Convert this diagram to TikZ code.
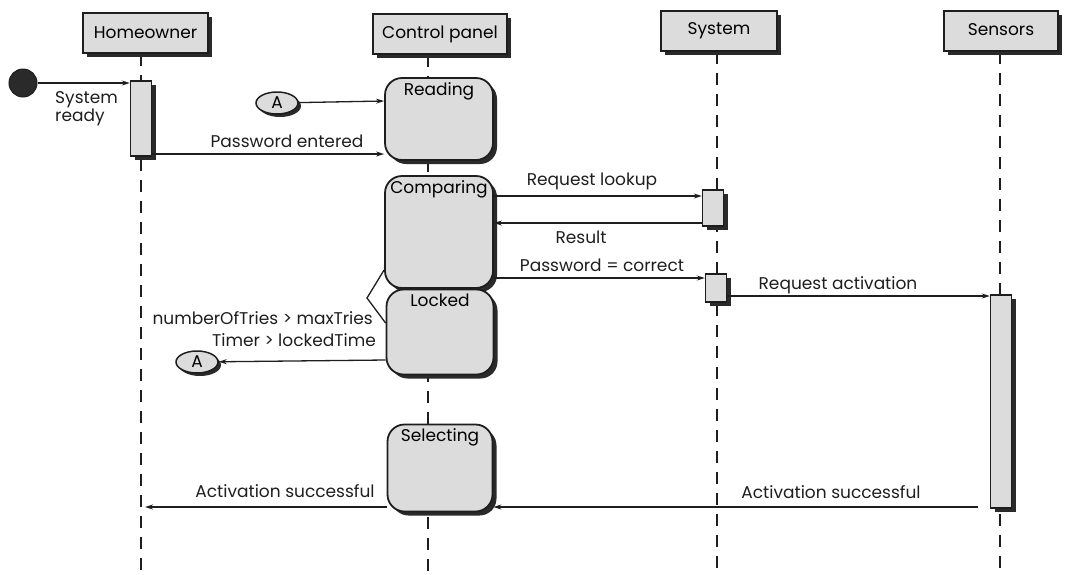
\documentclass[tikz,border=0pt]{standalone}
\usepackage{fontspec}
\setmainfont{Poppins}
\usetikzlibrary{shapes.geometric,shadows,arrows.meta,backgrounds}
\definecolor{boxfill}{HTML}{DCDCDC}
\definecolor{ink}{HTML}{1E1E1E}
\definecolor{shade}{HTML}{2A2A2A}
\newcommand{\txt}{\fontsize{17}{19}\selectfont}
\tikzset{
  shad/.style={drop shadow={shadow xshift=4pt, shadow yshift=-4pt, fill=shade, opacity=1}},
  hdr/.style={draw=ink, line width=1.4pt, fill=boxfill, minimum height=40pt,
    inner sep=0pt, font=\txt, shad},
  actbar/.style={draw=ink, line width=1.4pt, fill=boxfill, minimum width=21pt,
    inner sep=0pt, shad},
  stbox/.style={draw=ink, line width=1.8pt, fill=boxfill, rounded corners=17pt,
    inner sep=0pt, shad},
  stname/.style={font=\txt, anchor=north, inner sep=0pt, yshift=-5pt},
  life/.style={draw=ink, line width=2pt, dash pattern=on 12pt off 9pt},
  msg/.style={draw=ink, line width=1.3pt, -{Stealth[length=8pt,width=5pt]}},
  plain/.style={draw=ink, line width=1.3pt},
  lbl/.style={font=\txt, inner sep=0pt, text=ink},
  conn/.style={ellipse, draw=ink, line width=1.5pt, fill=boxfill, minimum width=42pt,
    minimum height=22pt, inner sep=0pt, font=\txt,
    drop shadow={shadow xshift=3pt, shadow yshift=-3pt, fill=shade, opacity=1}},
}
\begin{document}
\begin{tikzpicture}[x=1pt,y=-1pt]
\useasboundingbox (0,0) rectangle (1068,574);

% lifeline positions (bottom ends)
\coordinate (xH) at (141,574);
\coordinate (xC) at (428,574);
\coordinate (xS) at (717,574);
\coordinate (xN) at (1000,574);

% message rows
\coordinate (y101) at (0,101);
\coordinate (y154) at (0,154);
\coordinate (y196) at (0,196);
\coordinate (y223) at (0,223);
\coordinate (y270) at (0,270);
\coordinate (y278) at (0,278);
\coordinate (y296) at (0,296);
\coordinate (y323) at (0,323);
\coordinate (y360) at (0,360);
\coordinate (y507) at (0,507);

% object headers
\node[hdr, minimum width=125pt] (hH) at (145.5,33) {Homeowner};
\node[hdr, minimum width=134pt] (hC) at (440,34) {Control panel};
\node[hdr, minimum width=116pt] (hS) at (719,31) {System};
\node[hdr, minimum width=114pt] (hN) at (1001,31) {\raisebox{3pt}{Sensors}};

% activation bars
\node[actbar, minimum height=75pt] (bH) at (141,118.5) {};
\node[actbar, minimum height=36pt] (bS1) at (713,208) {};
\node[actbar, minimum height=28pt] (bS2) at (716,288) {};
\node[actbar, minimum height=213pt] (bN) at (1001,401.5) {};

% states of the control panel
\node[stbox, minimum width=108pt, minimum height=82pt] (rd) at (439,119) {};
\node[stname] at (rd.north) {Reading};
\node[stbox, minimum width=108pt, minimum height=112pt] (cmp) at (439,232) {};
\node[stname] at (cmp.north) {Comparing};
\node[stbox, minimum width=107pt, minimum height=85pt] (lk) at (440,332) {};
\node[stname] at (lk.north) {Locked};
\node[stbox, minimum width=105pt, minimum height=87pt] (sel) at (440,468) {};
\node[stname] at (sel.north) {Selecting};

% lifelines behind everything
\begin{scope}[on background layer]
  \draw[life] (hH.south -| xH) -- (xH);
  \draw[life] (hC.south -| xC) -- (xC);
  \draw[life] (hS.south -| xS) -- (xS);
  \draw[life] (hN.south -| xN) -- (xN);
\end{scope}

% initial state
\node[circle, fill=shade, draw=ink, line width=1pt, minimum size=28pt, inner sep=0pt] (init) at (23,83) {};
\draw[msg] (init) -- (bH.west |- init);
\node[lbl, align=left, anchor=north west, font=\fontsize{17}{15}\selectfont] (sr) at (55,91) {System\\ready};

% connectors A
\node[conn] (A1) at (277,103) {A};
\node[conn] (A2) at (197,362) {A};

% messages
\draw[msg] (A1) -- (rd.west |- y101);
\draw[msg] (bH.east |- y154) -- (rd.west |- y154);
\node[lbl] at (287,141) {Password entered};

\draw[msg] (cmp.east |- y196) -- (bS1.west |- y196);
\node[lbl] at (592,181) {Request lookup};
\draw[msg] (bS1.west |- y223) -- (cmp.east |- y223);
\node[lbl] at (581,237) {Result};
\draw[msg] (cmp.east |- y278) -- (bS2.west |- y278);
\node[lbl] at (602,265) {Password = correct};
\draw[msg] (bS2.east |- y296) -- (bN.west |- y296);
\node[lbl] at (838,285) {Request activation};

% guarded transitions out of Comparing
\coordinate (fork) at (367,298);
\draw[plain] (cmp.west |- y270) -- (fork) -- (lk.west |- y323);
\node[lbl, anchor=east] at (373,318) {numberOfTries > maxTries};
\node[lbl, anchor=east] at (376,340) {Timer > lockedTime};
\draw[msg] (lk.west |- y360) -- (A2);

% activation result back to the homeowner
\draw[msg] ([xshift=-12pt]bN.west |- y507) -- (sel.east |- y507);
\node[lbl] at (831,492) {Activation successful};
\draw[msg] (sel.west |- y507) -- ([xshift=4pt]bH.south |- y507);
\node[lbl] at (285,491) {Activation successful};
\end{tikzpicture}
\end{document}
